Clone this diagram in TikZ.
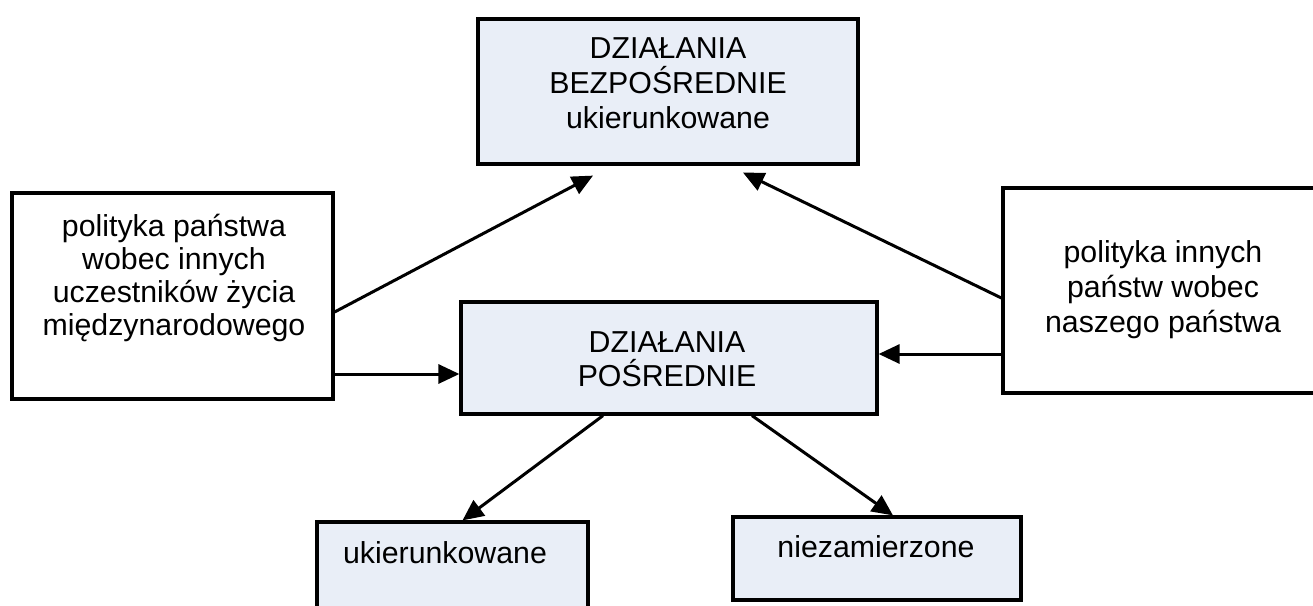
\documentclass[tikz,border=0pt]{standalone}
\usepackage{fontspec}
\setmainfont{Liberation Sans}
\usetikzlibrary{arrows.meta}
\definecolor{boxfill}{RGB}{233,238,247}
% strut fixing the distance from a text node's top to its first baseline
\newcommand\firststrut{\rule{0pt}{28pt}}
\begin{document}
\begin{tikzpicture}[x=1pt,y=-1pt,
  box/.style={draw=black, line width=3.2pt, inner sep=0pt},
  shaded/.style={box, fill=boxfill},
  plain/.style={box, fill=white},
  lbl/.style={inner sep=0pt, anchor=north, align=center,
              font=\fontsize{30.3}{35}\selectfont},
  conn/.style={line width=3pt, -{Triangle[length=21pt,width=19pt]}},
]
\clip (0,0) rectangle (1313,605);
\fill[white] (0,0) rectangle (1313,605);

% boxes
\node[shaded, minimum width=380pt, minimum height=145pt] (top)  at (668,91.5) {};
\node[plain,  minimum width=321pt, minimum height=206pt] (lbox) at (172.5,296) {};
\node[plain,  minimum width=327pt, minimum height=205pt] (rbox) at (1166.5,290.5) {};
\node[shaded, minimum width=416pt, minimum height=112pt] (mid)  at (669,358) {};
\node[shaded, minimum width=271pt, minimum height=118pt] (botL) at (452.5,581) {};
\node[shaded, minimum width=288pt, minimum height=83pt]  (botR) at (877,558.5) {};

% texts
\node[lbl] (toptxt) at (668,30) {\firststrut DZIAŁANIA\\BEZPOŚREDNIE\\ukierunkowane};
\node[lbl, font=\fontsize{30.3}{33}\selectfont] (ltxt) at (174,208)
  {\firststrut polityka państwa\\wobec innych\\uczestników życia\\międzynarodowego};
\node[lbl] (rtxt) at (1163,234) {\firststrut polityka innych\\państw wobec\\naszego państwa};
\node[lbl, font=\fontsize{30.3}{34}\selectfont] (midtxt) at (667,324) {\firststrut DZIAŁANIA\\POŚREDNIE};
\node[lbl] (bltxt) at (445,535) {\firststrut ukierunkowane};
\node[lbl] (brtxt) at (876,529) {\firststrut niezamierzone};

% connectors
\coordinate (midin)  at ([yshift=-16pt]mid.west);
\coordinate (midin2) at ([yshift=4pt]mid.east);
\draw[conn] ([yshift=-16pt]lbox.east) -- ([xshift=-75pt,yshift=-10pt]top.south);
\draw[conn] ([yshift=-7.5pt]rbox.west) -- ([xshift=75pt,yshift=-7pt]top.south);
\draw[conn] (lbox.east |- midin) -- (midin);
\draw[conn] (rbox.west |- midin2) -- (midin2);
\draw[conn] ([xshift=-66pt]mid.south) -- ([xshift=10pt]botL.north);
\draw[conn] ([xshift=83pt]mid.south) -- ([xshift=16pt]botR.north);
\end{tikzpicture}
\end{document}
